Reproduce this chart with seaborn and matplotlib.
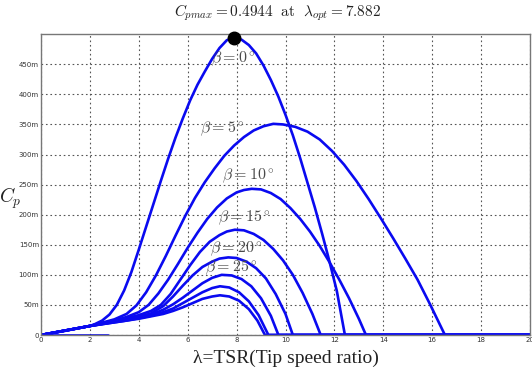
import numpy as np
import pandas as pd
import seaborn as sns
import matplotlib.pyplot as plt

# Cp curves, one pair of lists per pitch angle
lam_b0 = [0, 1, 2, 2.2, 2.5, 2.8, 3.1, 3.4, 3.7, 4.0, 4.3, 4.6, 4.9, 5.2, 5.5, 5.8, 6.1,
          6.4, 6.7, 7.0, 7.3, 7.6, 7.882, 8.2, 8.5, 8.8, 9.1, 9.4, 9.7, 10.0, 10.3,
          10.6, 10.9, 11.2, 11.5, 11.8, 12.1, 12.43, 20]
cp_b0 = [0, 0.007, 0.015, 0.018, 0.024, 0.034, 0.05, 0.074, 0.105, 0.142, 0.18, 0.218,
         0.256, 0.293, 0.328, 0.36, 0.39, 0.416, 0.438, 0.459, 0.477, 0.49, 0.4944, 0.491,
         0.482, 0.468, 0.448, 0.424, 0.397, 0.366, 0.332, 0.294, 0.253, 0.212, 0.168,
         0.122, 0.073, 0, 0]

lam_b5 = [0, 2, 3, 3.5, 3.9, 4.3, 4.7, 5.1, 5.5, 5.9, 6.3, 6.7, 7.1, 7.5, 7.9, 8.3,
          8.7, 9.1, 9.5, 9.9, 10.4, 10.9, 11.4, 11.9, 12.4, 12.9, 13.4, 13.9, 14.4,
          14.9, 15.4, 15.9, 16.52, 20]
cp_b5 = [0, 0.015, 0.026, 0.035, 0.049, 0.071, 0.099, 0.131, 0.165, 0.198, 0.228, 0.254,
         0.277, 0.298, 0.315, 0.329, 0.34, 0.347, 0.351, 0.35, 0.346, 0.338, 0.325,
         0.306, 0.283, 0.256, 0.226, 0.194, 0.161, 0.127, 0.092, 0.052, 0, 0]

lam_b10 = [0, 2, 3, 3.5, 4.0, 4.4, 4.8, 5.2, 5.6, 6.0, 6.4, 6.8, 7.2, 7.6, 8.0, 8.3,
           8.62, 9.0, 9.4, 9.8, 10.2, 10.6, 11.0, 11.4, 11.8, 12.2, 12.6, 13.0, 13.29, 20]
cp_b10 = [0, 0.015, 0.024, 0.03, 0.038, 0.05, 0.069, 0.092, 0.118, 0.145, 0.17, 0.193,
          0.212, 0.227, 0.237, 0.241, 0.243, 0.242, 0.236, 0.226, 0.211, 0.193, 0.172,
          0.148, 0.121, 0.092, 0.061, 0.027, 0, 0]

lam_b15 = [0, 2, 3, 3.5, 4.0, 4.5, 4.9, 5.3, 5.7, 6.1, 6.5, 6.9, 7.3, 7.6, 7.93, 8.3,
           8.7, 9.1, 9.5, 9.9, 10.3, 10.7, 11.1, 11.44, 20]
cp_b15 = [0, 0.015, 0.023, 0.028, 0.033, 0.04, 0.05, 0.068, 0.092, 0.116, 0.138, 0.155,
          0.166, 0.172, 0.175, 0.174, 0.168, 0.158, 0.143, 0.124, 0.1, 0.07, 0.035, 0, 0]

lam_b20 = [0, 2, 3, 3.5, 4.0, 4.5, 5.0, 5.4, 5.8, 6.2, 6.6, 7.0, 7.3, 7.66, 8.0, 8.4,
           8.8, 9.2, 9.6, 10.0, 10.3, 20]
cp_b20 = [0, 0.015, 0.022, 0.026, 0.03, 0.036, 0.048, 0.064, 0.082, 0.099, 0.113, 0.122,
          0.127, 0.129, 0.128, 0.122, 0.111, 0.094, 0.068, 0.035, 0, 0]

lam_b25 = [0, 2, 3, 3.5, 4.0, 4.5, 5.0, 5.4, 5.8, 6.2, 6.6, 7.0, 7.39, 7.8, 8.2, 8.6,
           9.0, 9.4, 9.71, 20]
cp_b25 = [0, 0.015, 0.022, 0.025, 0.029, 0.034, 0.042, 0.051, 0.062, 0.074, 0.086, 0.095,
          0.1, 0.099, 0.093, 0.081, 0.061, 0.032, 0, 0]

lam_b30 = [0, 2, 3, 3.5, 4.0, 4.5, 5.0, 5.4, 5.8, 6.2, 6.6, 7.0, 7.32, 7.7, 8.1, 8.5,
           8.9, 9.3, 20]
cp_b30 = [0, 0.015, 0.021, 0.024, 0.028, 0.032, 0.038, 0.044, 0.053, 0.062, 0.071, 0.078,
          0.081, 0.079, 0.071, 0.056, 0.033, 0, 0]

lam_b35 = [0, 2, 3, 3.5, 4.0, 4.5, 5.0, 5.4, 5.8, 6.2, 6.6, 7.0, 7.32, 7.7, 8.1, 8.5,
           8.85, 9.16, 20]
cp_b35 = [0, 0.015, 0.021, 0.024, 0.027, 0.031, 0.035, 0.04, 0.046, 0.053, 0.06, 0.064,
          0.066, 0.064, 0.057, 0.043, 0.024, 0, 0]

# short flat piece on the axis at the lower left
lam_flat = [0, 2.74]
cp_flat = [0, 0]

lam_opt = 7.882
cp_max = 0.4944

label_text = ['$\\beta=0^\\circ$', '$\\beta=5^\\circ$', '$\\beta=10^\\circ$',
              '$\\beta=15^\\circ$', '$\\beta=20^\\circ$', '$\\beta=25^\\circ$']
label_lam = [7.85, 7.4, 8.47, 8.3, 8.0, 7.8]
label_cp = [0.458, 0.341, 0.264, 0.194, 0.143, 0.11]

xticks = [0, 2, 4, 6, 8, 10, 12, 14, 16, 18, 20]
yticks = [0, 0.05, 0.1, 0.15, 0.2, 0.25, 0.3, 0.35, 0.4, 0.45]
ytick_labels = ['0', '50m', '100m', '150m', '200m', '250m', '300m', '350m', '400m', '450m']

curves = [(lam_b0, cp_b0), (lam_b5, cp_b5), (lam_b10, cp_b10), (lam_b15, cp_b15),
          (lam_b20, cp_b20), (lam_b25, cp_b25), (lam_b30, cp_b30), (lam_b35, cp_b35),
          (lam_flat, cp_flat)]

sns.set_style('white')
plt.rcParams['mathtext.fontset'] = 'cm'

fig = plt.figure(figsize=(5.32, 3.78), dpi=100)
ax = fig.add_axes([41 / 532, 1 - 335 / 378, 489 / 532, 300.8 / 378])

for lam, cp in curves:
    df = pd.DataFrame({'lam': lam, 'cp': cp})
    sns.lineplot(data=df, x='lam', y='cp', ax=ax, color='#0a0af0', lw=1.9,
                 estimator=None, sort=False)

ax.plot([lam_opt], [cp_max], 'o', color='black', ms=9, clip_on=False, zorder=5)

for t, lx, ly in zip(label_text, label_lam, label_cp):
    ax.text(lx, ly, t, ha='center', va='center', fontsize=11.5, color='#4a4a4a')

ax.set_xlim(0, 20)
ax.set_ylim(0, 0.5)
ax.set_xticks(xticks)
ax.set_yticks(yticks)
ax.set_yticklabels(ytick_labels)
ax.tick_params(labelsize=5, colors='#333333', length=2, direction='in', pad=1.5)
ax.grid(True, linestyle=(0, (1.5, 2.5)), color='#555555', lw=0.8)
for s in ax.spines.values():
    s.set_color('#777777')
    s.set_linewidth(1.0)

ax.set_xlabel('λ=TSR(Tip speed ratio)', family='Liberation Serif', fontsize=14,
              color='#222222', labelpad=5)
ax.set_ylabel('$C_p$', fontsize=14, rotation=0, color='#222222', ha='center', va='center')
ax.yaxis.set_label_coords(-0.062, 0.455)

fig.text(0.522, 0.966, '$C_{pmax}=0.4944\\ \\ \\mathrm{at}\\ \\ \\lambda_{opt}=7.882$',
         ha='center', va='center', fontsize=11, color='#222222')

fig.savefig('out.png', dpi=100, facecolor='white')
